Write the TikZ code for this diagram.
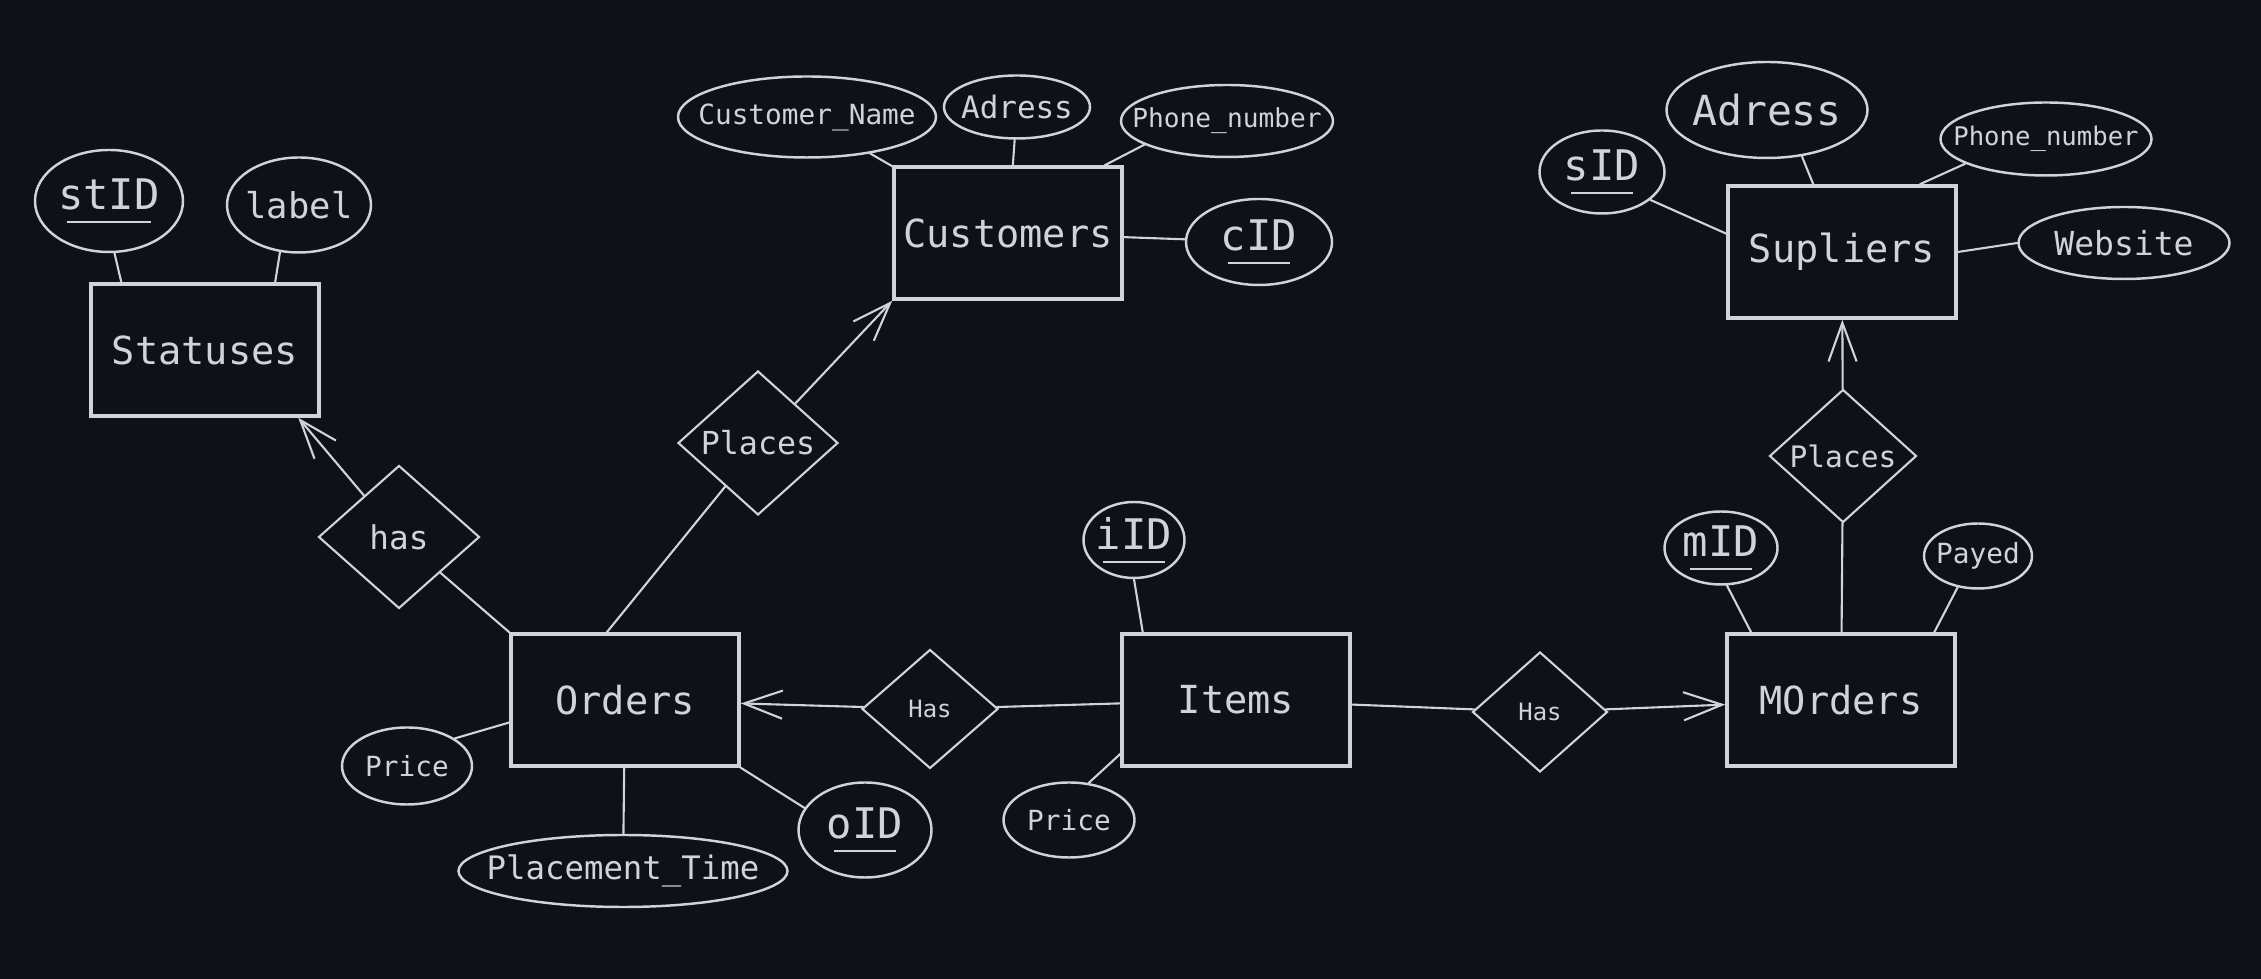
\documentclass[tikz,border=0pt]{standalone}
\usepackage{fontspec}
\usepackage{tikz}
\usetikzlibrary{shapes.geometric,arrows.meta}

\newfontfamily\sketchfont{DejaVu Sans Mono}
\newcommand{\sk}[1]{\sketchfont\fontsize{#1}{#1}\selectfont}
\newsavebox{\keybox}
\newcommand{\keyattr}[1]{\sbox{\keybox}{#1}\vbox{\offinterlineskip\copy\keybox\kern3.2pt\hbox to\wd\keybox{\hss\rule{0.82\wd\keybox}{0.6pt}\hss}}}

\definecolor{bg}{HTML}{0E1117}
\definecolor{ink}{HTML}{CED4DA}

\begin{document}
\begin{tikzpicture}[
  x=0.1mm, y=-0.1mm,
  entity/.style={rectangle, draw=ink, line width=1pt, text=ink, inner sep=0pt,
                 minimum width=22.8mm, minimum height=13.2mm, font=\sk{11}},
  rel/.style={diamond, draw=ink, line width=0.6pt, inner sep=0pt, text=ink},
  attr/.style={ellipse, draw=ink, line width=0.7pt, inner xsep=-20mm, inner ysep=0pt, text=ink},
  link/.style={draw=ink, line width=0.6pt, line cap=round},
  linkarrow/.style={link, -{Straight Barb[length=11pt, width=8pt]}}
]
\fill[bg] (0,0) rectangle (2261,979);

% entities
\node[entity] (statuses)  at (205,350)  {Statuses};
\node[entity] (customers) at (1008,233) {Customers};
\node[entity] (supliers)  at (1842,252) {Supliers};
\node[entity] (orders)    at (625,700)  {Orders};
\node[entity] (items)     at (1236,700) {Items};
\node[entity] (morders)   at (1841,700) {MOrders};

% relationships
\node[rel, minimum width=16.1mm, minimum height=14.3mm, font=\sk{9.3}] (has)     at (399,537)  {has};
\node[rel, minimum width=16mm,   minimum height=14.4mm, font=\sk{9}]   (placesL) at (758,443)  {Places};
\node[rel, minimum width=13.6mm, minimum height=11.9mm, font=\sk{6.8}] (hasL)    at (930,709)  {Has};
\node[rel, minimum width=13.5mm, minimum height=12mm,   font=\sk{6.8}] (hasR)    at (1540,712) {Has};
\node[rel, minimum width=14.7mm, minimum height=13.3mm, font=\sk{8.4}] (placesR) at (1843,456) {Places};

% attributes
\node[attr, minimum width=14.8mm, minimum height=10.2mm, font=\sk{12}]   (stID)       at (109,201)  {\keyattr{stID}};
\node[attr, minimum width=14.4mm, minimum height=9.5mm,  font=\sk{10.1}] (label)      at (299,205)  {label};
\node[attr, minimum width=25.8mm, minimum height=8.1mm,  font=\sk{7.9}]  (custName)   at (807,117)  {Customer\_Name};
\node[attr, minimum width=14.6mm, minimum height=6.3mm,  font=\sk{8.8}]  (custAdress) at (1017,107) {Adress};
\node[attr, minimum width=21.2mm, minimum height=7.2mm,  font=\sk{7.45}] (custPhone)  at (1227,121) {Phone\_number};
\node[attr, minimum width=14.6mm, minimum height=8.6mm,  font=\sk{12}]   (cID)        at (1259,242) {\keyattr{cID}};
\node[attr, minimum width=12.5mm, minimum height=8.3mm,  font=\sk{12}]   (sID)        at (1602,172) {\keyattr{sID}};
\node[attr, minimum width=20.1mm, minimum height=9.6mm,  font=\sk{11.8}] (supAdress)  at (1767,110) {Adress};
\node[attr, minimum width=21.1mm, minimum height=7.3mm,  font=\sk{7.3}]  (supPhone)   at (2046,139) {Phone\_number};
\node[attr, minimum width=21.1mm, minimum height=7.2mm,  font=\sk{9.4}]  (website)    at (2124,243) {Website};
\node[attr, minimum width=11.3mm, minimum height=7.3mm,  font=\sk{12}]   (mID)        at (1721,548) {\keyattr{mID}};
\node[attr, minimum width=10.8mm, minimum height=6.5mm,  font=\sk{7.9}]  (payed)      at (1978,556) {Payed};
\node[attr, minimum width=10.1mm, minimum height=7.6mm,  font=\sk{12}]   (iID)        at (1134,540) {\keyattr{iID}};
\node[attr, minimum width=13.1mm, minimum height=7.5mm,  font=\sk{7.9}]  (itemPrice)  at (1069,820) {Price};
\node[attr, minimum width=13mm,   minimum height=7.7mm,  font=\sk{7.9}]  (orderPrice) at (407,766)  {Price};
\node[attr, minimum width=32.9mm, minimum height=7.2mm,  font=\sk{9.2}]  (placement)  at (623,871)  {Placement\_Time};
\node[attr, minimum width=13.3mm, minimum height=9.5mm,  font=\sk{12}]   (oID)        at (865,830)  {\keyattr{oID}};

% attribute links
\draw[link] (stID.276) -- (statuses.141);
\draw[link] (label.248) -- (statuses.44);
\draw[link] (custName) -- (customers);
\draw[link] (custAdress) -- (customers);
\draw[link] (custPhone.196) -- (customers.35);
\draw[link] (customers) -- (cID);
\draw[link] (sID.330) -- (supliers.171);
\draw[link] (supAdress.307) -- (supliers.113);
\draw[link] (supPhone.197) -- (supliers.41);
\draw[link] (website.west) -- (supliers.east);
\draw[link] (mID.279) -- (morders.143);
\draw[link] (payed.237) -- (morders.36);
\draw[link] (iID.south) -- (items.144);
\draw[link] (itemPrice.62) -- (items.205);
\draw[link] (orderPrice.30) -- (orders.191);
\draw[link] (orders) -- (placement);
\draw[link] (oID.160) -- (orders.south east);

% relationship links
\draw[link] (orders.north west) -- (has);
\draw[linkarrow] (has) -- (statuses.-36);
\draw[link] (orders.105) -- (placesL.233);
\draw[linkarrow] (placesL) -- (customers.south west);
\draw[link] (items) -- (hasL);
\draw[linkarrow] (hasL) -- (orders);
\draw[link] (items) -- (hasR);
\draw[linkarrow] (hasR) -- (morders);
\draw[link] (morders) -- (placesR);
\draw[linkarrow] (placesR) -- (supliers);
\end{tikzpicture}
\end{document}
